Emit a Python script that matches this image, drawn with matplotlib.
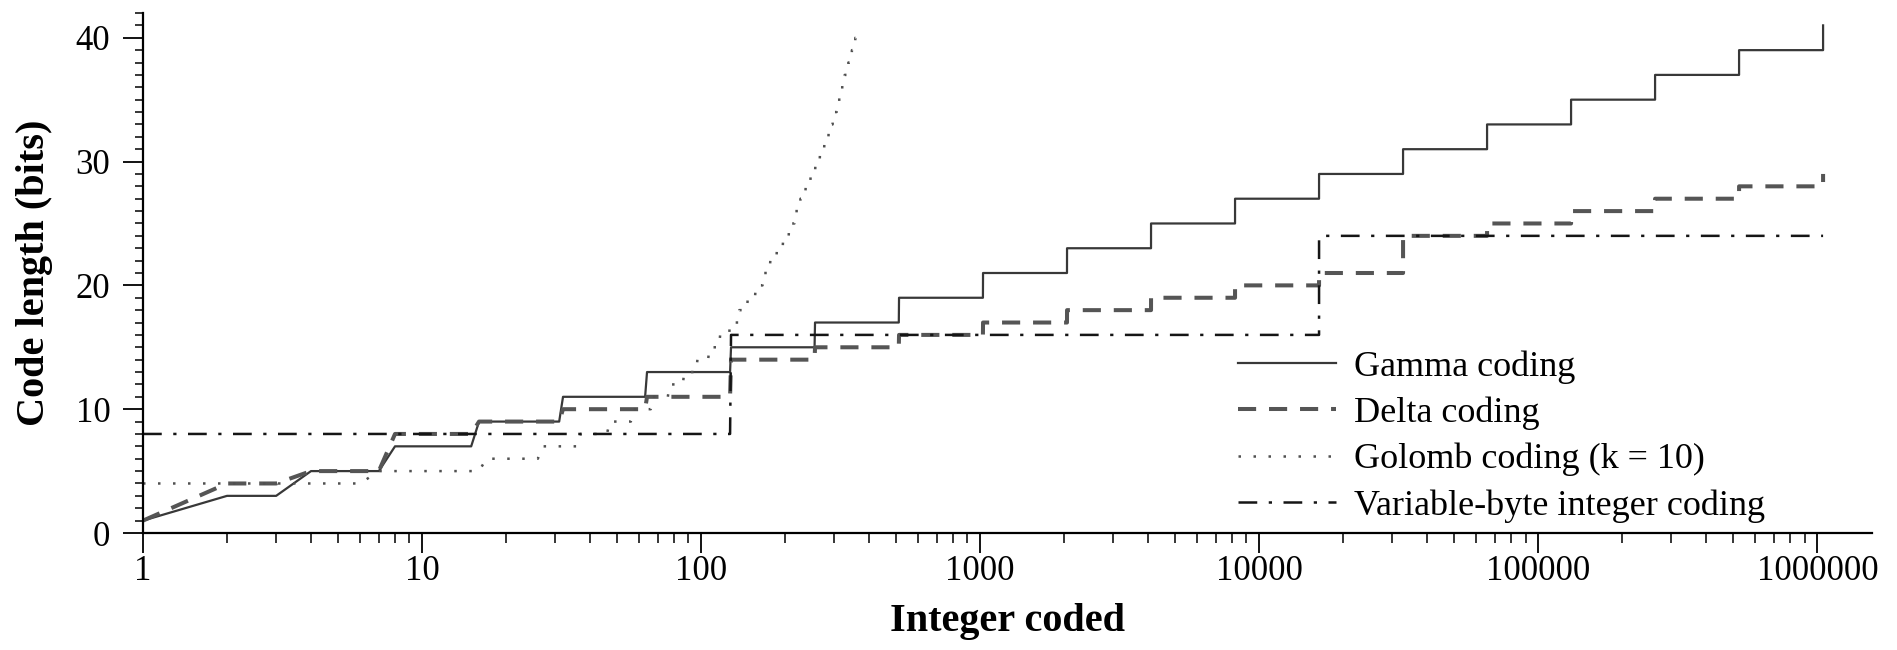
import matplotlib
matplotlib.use('Agg')
import matplotlib.pyplot as plt
from matplotlib.ticker import MultipleLocator, LogLocator, NullFormatter, FixedLocator, FixedFormatter

plt.rcParams['font.family'] = ['Liberation Serif', 'DejaVu Serif']

# step start points (integer where a new code length begins) and code lengths
pow2 = [1, 2, 4, 8, 16, 32, 64, 128, 256, 512, 1024, 2048, 4096, 8192,
        16384, 32768, 65536, 131072, 262144, 524288, 1048576]
gamma_bits = [1, 3, 5, 7, 9, 11, 13, 15, 17, 19, 21, 23, 25, 27, 29, 31,
              33, 35, 37, 39, 41]
delta_bits = [1, 4, 5, 8, 9, 10, 11, 14, 15, 16, 17, 18, 19, 20, 21, 24,
              25, 26, 27, 28, 29]
golomb_start = [1, 7, 17, 27, 37, 47, 57, 67, 77, 87, 97, 107, 117, 127,
                137, 147, 157, 167, 177, 187, 197, 207, 217, 227, 237, 247,
                257, 267, 277, 287, 297, 307, 317, 327, 337, 347, 357]
golomb_bits = [4, 5, 6, 7, 8, 9, 10, 11, 12, 13, 14, 15, 16, 17, 18, 19,
               20, 21, 22, 23, 24, 25, 26, 27, 28, 29, 30, 31, 32, 33, 34,
               35, 36, 37, 38, 39, 40]
golomb_end = 366
vbyte_start = [1, 128, 16384]
vbyte_bits = [8, 16, 24]
vbyte_end = 1048576

xticks = [1, 10, 100, 1000, 10000, 100000, 1000000]
xticklabels = ['1', '10', '100', '1000', '10000', '100000', '1000000']


def steps( starts, vals, end=None ):
    # value holds on integers start..next_start-1, joined point to point
    xs, ys = [], []
    for i in range( len( starts ) ):
        xs.append( starts[i] )
        ys.append( vals[i] )
        if i + 1 < len( starts ):
            nxt = starts[i+1] - 1
        else:
            nxt = end
        if nxt is not None and nxt > starts[i]:
            xs.append( nxt )
            ys.append( vals[i] )
    return xs, ys


fig = plt.figure( figsize=(18.97, 6.5), dpi=100 )
ax = fig.add_axes( [143/1897, 1-533/650, (1872-143)/1897, (533-13)/650] )

gx, gy = steps( pow2, gamma_bits )
dx, dy = steps( pow2, delta_bits )
ox, oy = steps( golomb_start, golomb_bits, golomb_end )
vx, vy = steps( vbyte_start, vbyte_bits, vbyte_end )

ax.plot( gx, gy, color='#383838', lw=1.6, label='Gamma coding' )
ax.plot( dx, dy, color='#555555', lw=2.9, dashes=(4.5, 3.2),
         label='Delta coding' )
ax.plot( ox, oy, color='#505050', lw=1.8, dashes=(1.0, 5.0),
         label='Golomb coding (k = 10)' )
ax.plot( vx, vy, color='#151515', lw=1.8, dashes=(7.5, 4.6, 1.3, 4.6),
         label='Variable-byte integer coding' )

ax.set_xscale( 'log' )
ax.set_xlim( 1, 1.57e6 )
ax.set_ylim( 0, 42 )

ax.xaxis.set_major_locator( FixedLocator( xticks ) )
ax.xaxis.set_major_formatter( FixedFormatter( xticklabels ) )
ax.xaxis.set_minor_locator( LogLocator( base=10, subs=range(2, 10), numticks=20 ) )
ax.xaxis.set_minor_formatter( NullFormatter() )
ax.yaxis.set_major_locator( MultipleLocator( 10 ) )
ax.yaxis.set_minor_locator( MultipleLocator( 1 ) )

for s in ['top', 'right']:
    ax.spines[s].set_visible( False )
for s in ['left', 'bottom']:
    ax.spines[s].set_linewidth( 1.6 )

ax.tick_params( axis='x', which='major', direction='out', length=14.5,
                width=1.3, labelsize=25, pad=1 )
ax.tick_params( axis='x', which='minor', direction='out', length=7,
                width=1.1 )
ax.tick_params( axis='y', which='major', direction='out', length=14.5,
                width=1.3, labelsize=25, pad=9 )
ax.tick_params( axis='y', which='minor', direction='out', length=6,
                width=1.1 )

ax.set_xlabel( 'Integer coded', fontsize=29, fontweight='bold' )
ax.set_ylabel( 'Code length (bits)', fontsize=29, fontweight='bold' )
ax.xaxis.set_label_coords( 0.5, -0.135 )
ax.yaxis.set_label_coords( -0.052, 0.5 )

ax.legend( loc='upper left', bbox_to_anchor=(1238/1897, 1-350/650),
           bbox_transform=fig.transFigure, frameon=False, fontsize=26,
           handlelength=2.7, handletextpad=0.5, labelspacing=0.36,
           borderpad=0, borderaxespad=0 )

plt.savefig( 'out.png', dpi=100 )
plt.close( 'all' )
